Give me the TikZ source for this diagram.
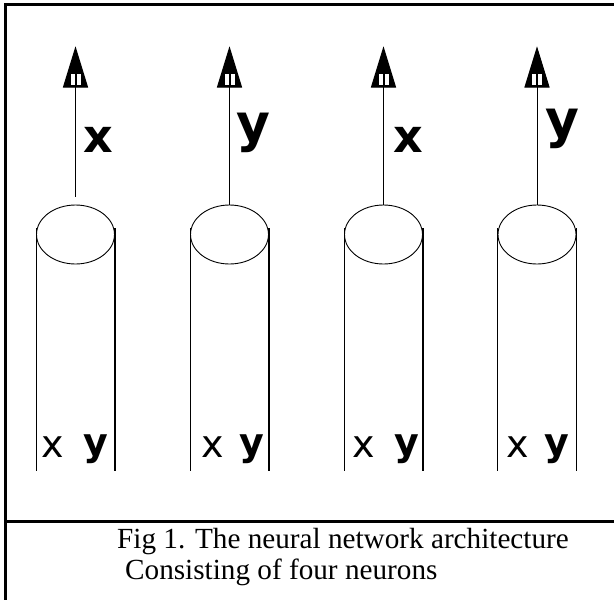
\documentclass[tikz,border=0pt]{standalone}
\usepackage{fontspec}
\setmainfont{Liberation Serif}
\newfontfamily\pixfont{DejaVu Sans}
\usetikzlibrary{shapes.geometric,calc}
\tikzset{
  neuron/.style={ellipse,draw,line width=0.9pt,minimum width=78pt,minimum height=59pt,inner sep=0pt},
  wall/.style={line width=1.1pt},
  shaft/.style={line width=1pt},
  headfill/.style={fill=black,draw=black,line width=1pt,line join=miter},
  slit/.style={fill=white,draw=none},
  biglab/.style={inner sep=0pt,font=\pixfont\bfseries\fontsize{46}{46}\selectfont},
  bigy/.style={inner sep=0pt,font=\pixfont\bfseries\fontsize{52}{52}\selectfont},
  smalllab/.style={inner sep=0pt,font=\pixfont\fontsize{38}{38}\selectfont},
  smally/.style={inner sep=0pt,font=\pixfont\bfseries\fontsize{38}{38}\selectfont},
  frame/.style={line width=3pt},
  caption/.style={inner sep=0pt,anchor=base west,font=\fontsize{29.2}{31}\selectfont}
}
\begin{document}
\begin{tikzpicture}[x=1pt,y=-1pt]
\useasboundingbox (0,0) rectangle (614,600);
% frame
\draw[frame] (614,4) -- (5,4) -- (5,600);
\draw[frame] (5,521.5) -- (614,521.5);
% neurons
\foreach \i/\cx in {1/75.5, 2/229.5, 3/383.5, 4/537}{
  \node[neuron] (n\i) at (\cx,234.5) {};
  \coordinate (t\i) at (\cx,48);
  \coordinate (h\i) at (\cx,87);
  \coordinate (wl\i) at ($(n\i.west)+(0,-6.5)$);
  \coordinate (wr\i) at ($(n\i.east)+(0,-6.5)$);
  \coordinate (bl\i) at ($(n\i.west)+(0,236.5)$);
  \coordinate (br\i) at ($(n\i.east)+(0,236.5)$);
  \draw[wall] (wl\i) -- (bl\i);
  \draw[wall] (wr\i) -- (br\i);
  \draw[headfill] (t\i) -- ($(h\i)+(-12,0)$) -- ($(h\i)+(12,0)$) -- cycle;
  \fill[slit] ($(t\i)+(-5,26)$) rectangle ($(t\i)+(-1,37)$);
  \fill[slit] ($(t\i)+(1,26)$) rectangle ($(t\i)+(5,37)$);
}
\coordinate (s1) at ($(n1.north)+(0,-8)$);
\draw[shaft] (s1) -- (h1);
\draw[shaft] (n2.north) -- (h2);
\draw[shaft] (n3.north) -- (h3);
\draw[shaft] (n4.north) -- (h4);
% top labels
\node[biglab] (ox1) at (98,140) {x};
\node[bigy] (oy2) at (253,133) {y};
\node[biglab] (ox3) at (408,140) {x};
\node[bigy] (oy4) at (562,129) {y};
% bottom labels
\node[smalllab] (ix1) at (53,447) {x};
\node[smally] (iy1) at (96,449) {y};
\node[smalllab] (ix2) at (213,447) {x};
\node[smally] (iy2) at (252,449) {y};
\node[smalllab] (ix3) at (364,447) {x};
\node[smally] (iy3) at (407,449) {y};
\node[smalllab] (ix4) at (518,447) {x};
\node[smally] (iy4) at (557,449) {y};
% caption
\node[caption] (cap1) at (117,548) {Fig 1. The neural network architecture};
\node[caption] (cap2) at (125,579) {Consisting of four neurons};
\end{tikzpicture}
\end{document}
